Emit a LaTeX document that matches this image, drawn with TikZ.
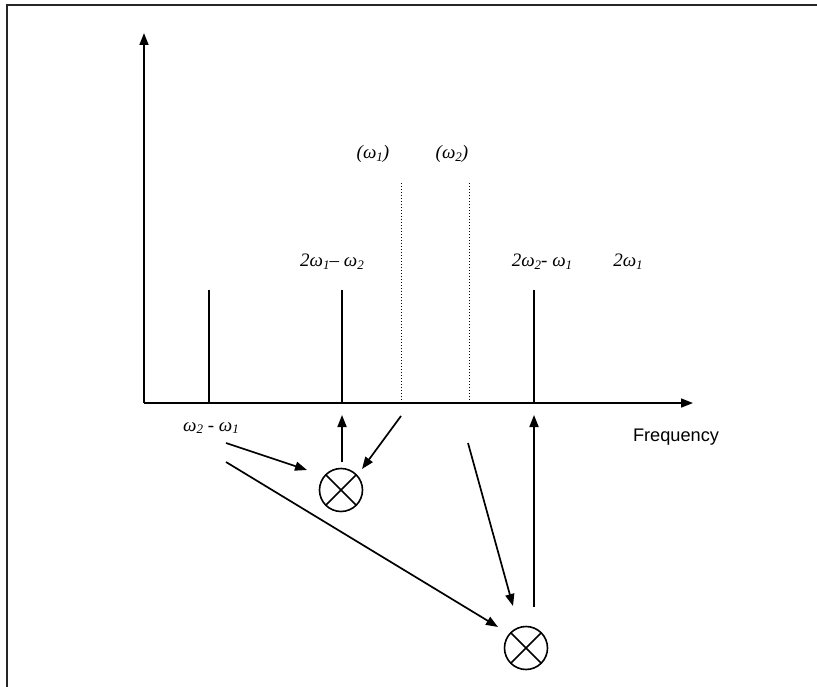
\documentclass[tikz,border=0pt]{standalone}
\usepackage{fontspec}
\setmainfont{Liberation Serif}
\newfontfamily\labelsans{Liberation Sans}
\usetikzlibrary{arrows.meta,positioning}
\newcommand{\lowsub}[1]{\raisebox{-0.3ex}{\fontsize{13}{15}\selectfont #1}}
\tikzset{
  arr/.style={line width=1.7pt,-{Triangle[length=12pt,width=9pt]}},
  spec/.style={line width=1.3pt},
  tone/.style={line width=1pt,dotted},
  mixer/.style={circle,draw,line width=1.6pt,minimum size=43pt,inner sep=0pt,
    path picture={\draw[line width=1.6pt] (path picture bounding box.north west)--(path picture bounding box.south east)
      (path picture bounding box.north east)--(path picture bounding box.south west);}},
  lbl/.style={font=\fontsize{19}{22}\selectfont\itshape,inner sep=0pt}
}

\begin{document}
\begin{tikzpicture}[x=1pt,y=-1pt]
  \useasboundingbox (0,0) rectangle (817,687);
  \draw[line width=2pt,black!85] (7,690) -- (7,5) -- (820,5);
  % axes
  \coordinate (o) at (144,403);
  \coordinate (ytip) at (144,33);
  \coordinate (xtip) at (693,403);
  \draw[arr] (o) -- (ytip);
  \draw[arr] (o) -- (xtip);
  % spectral lines and the two tones
  \foreach \name/\x in {a/209,b/342,c/534}{
    \coordinate (\name) at (\x,403);
    \draw[spec] (\name) -- ++(0,-113);
  }
  \foreach \name/\x in {w1/401,w2/469}{
    \coordinate (\name) at (\x,403);
    \draw[tone] (\name) -- ++(0,-220);
  }
  % labels
  \node[lbl] (lw1) at (373,154) {(ω\lowsub{1})};
  \node[lbl] (lw2) at (452,154) {(ω\lowsub{2})};
  \node[lbl] (l21) at (332,262) {2ω\lowsub{1}– ω\lowsub{2}};
  \node[lbl] (l12) at (542,262) {2ω\lowsub{2}- ω\lowsub{1}};
  \node[lbl] (l2w) at (628,262) {2ω\lowsub{1}};
  \node[lbl] (ldiff) at (211,428) {ω\lowsub{2} - ω\lowsub{1}};
  \node[font=\labelsans\fontsize{18.2}{21}\selectfont,inner sep=0pt] (freq) at (676,437) {Frequency};
  % mixers
  \node[mixer] (m1) at (341,490) {};
  \node[mixer] (m2) at (526,648) {};
  % feeds into the mixers and their outputs
  \coordinate (d1) at (226,443); \coordinate (d1e) at (307,470);
  \coordinate (d2) at (226,462); \coordinate (d2e) at (498,627);
  \coordinate (t1) at (401,416); \coordinate (t1e) at (362,469);
  \coordinate (t2) at (468,443); \coordinate (t2e) at (513,606);
  \coordinate (o1) at (342,462); \coordinate (o1e) at (342,415);
  \coordinate (o2) at (534,607); \coordinate (o2e) at (534,415);
  \draw[arr] (d1) -- (d1e);
  \draw[arr] (d2) -- (d2e);
  \draw[arr] (t1) -- (t1e);
  \draw[arr] (t2) -- (t2e);
  \draw[arr] (o1) -- (o1e);
  \draw[arr] (o2) -- (o2e);
\end{tikzpicture}
\end{document}
